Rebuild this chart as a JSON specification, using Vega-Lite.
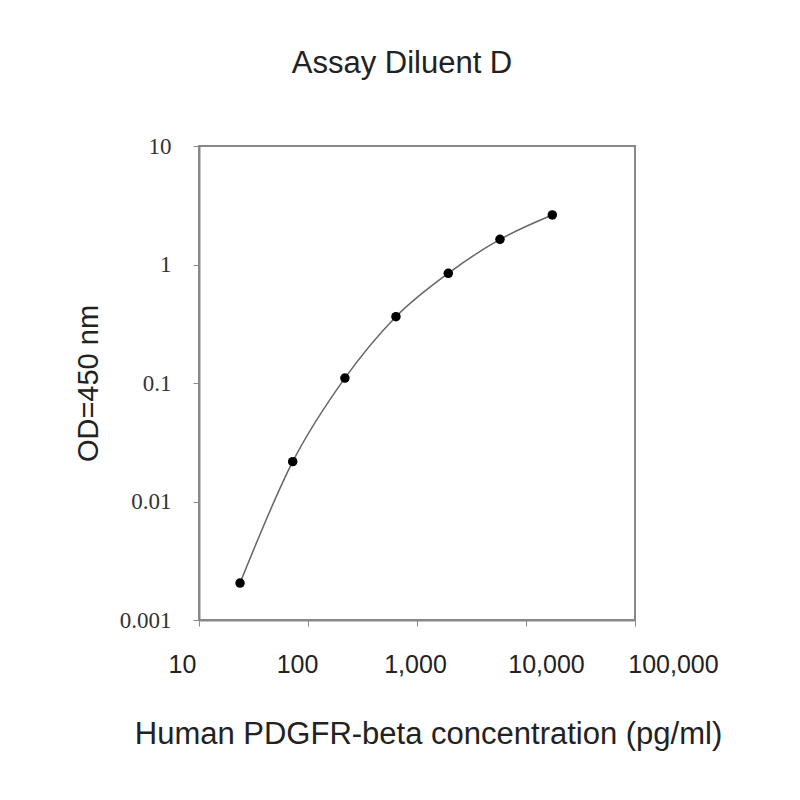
{
  "$schema": "https://vega.github.io/schema/vega-lite/v6.json",
  "description": "Standard curve for human PDGFR-beta in Assay Diluent D",
  "autosize": "none",
  "width": 436,
  "height": 474,
  "padding": {"left": 199, "top": 146, "right": 165, "bottom": 180},
  "title": {
    "text": "Assay Diluent D",
    "font": "Liberation Sans",
    "fontSize": 31,
    "fontWeight": "normal",
    "color": "#222",
    "anchor": "middle",
    "dx": -15,
    "offset": 55
  },
  "data": {
    "values": [
      {"conc": 23.8, "od": 0.00205},
      {"conc": 72.4, "od": 0.0217},
      {"conc": 218, "od": 0.110},
      {"conc": 641, "od": 0.363},
      {"conc": 1937, "od": 0.843},
      {"conc": 5770, "od": 1.63},
      {"conc": 17430, "od": 2.62}
    ]
  },
  "encoding": {
    "x": {
      "field": "conc",
      "type": "quantitative",
      "scale": {"type": "log", "domain": [10, 100000], "nice": false},
      "axis": {
        "title": "Human PDGFR-beta concentration (pg/ml)",
        "values": [10, 100, 1000, 10000, 100000],
        "format": ",",
        "grid": false,
        "labelOverlap": false,
        "labelBound": false,
        "labelFlush": false,
        "labelOffset": {
          "condition": [
            {"test": "datum.value < 50", "value": -17},
            {"test": "datum.value < 500", "value": -11},
            {"test": "datum.value < 5000", "value": -2},
            {"test": "datum.value < 50000", "value": 20}
          ],
          "value": 38
        },
        "tickSize": 6,
        "tickColor": "#888",
        "domainColor": "#888",
        "labelFont": "Liberation Sans",
        "labelFontSize": 25,
        "labelColor": "#222",
        "labelPadding": 26,
        "titleFont": "Liberation Sans",
        "titleFontSize": 31,
        "titleFontWeight": "normal",
        "titleColor": "#222",
        "titlePadding": 42,
        "titleX": 229
      }
    },
    "y": {
      "field": "od",
      "type": "quantitative",
      "scale": {"type": "log", "domain": [0.001, 10], "nice": false},
      "axis": {
        "title": "OD=450 nm",
        "values": [0.001, 0.01, 0.1, 1, 10],
        "format": "~g",
        "grid": false,
        "labelOverlap": false,
        "labelFlush": false,
        "tickSize": 6,
        "tickColor": "#888",
        "domainColor": "#888",
        "labelFont": "Liberation Serif",
        "labelFontSize": 23,
        "labelColor": "#333",
        "labelPadding": 22,
        "titleFont": "Liberation Sans",
        "titleFontSize": 29,
        "titleFontWeight": "normal",
        "titleColor": "#222",
        "titlePadding": 16
      }
    }
  },
  "layer": [
    {
      "mark": {"type": "line", "interpolate": "monotone", "color": "#666", "strokeWidth": 1.5}
    },
    {
      "mark": {"type": "point", "filled": true, "color": "#000", "opacity": 1, "size": 90}
    }
  ],
  "config": {
    "view": {"stroke": "#888", "strokeWidth": 2},
    "axis": {"domainWidth": 2}
  }
}
